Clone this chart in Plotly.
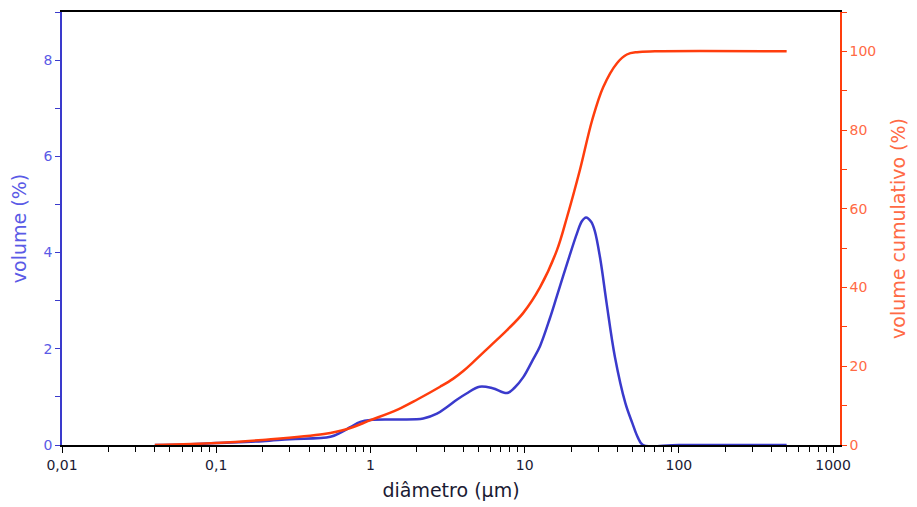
import plotly.graph_objects as go

# Frequency distribution (volume %)
diam_freq = [0.04, 0.06, 0.1, 0.2, 0.3, 0.55, 0.65, 0.74, 0.86, 1.0, 1.5, 2.2, 2.7, 3.14, 3.63, 4.2,
             5.1, 6.2, 7.7, 8.6, 9.8, 11.3, 12.6, 14.6, 16.2, 18.8, 21.9, 23.5, 25, 27, 28.5, 31, 34, 38.5,
             45, 50, 54, 58.6, 100, 500]
volume = [0, 0.01, 0.04, 0.08, 0.12, 0.17, 0.27, 0.37, 0.48, 0.52, 0.53, 0.55, 0.65, 0.79, 0.94, 1.07,
          1.21, 1.18, 1.08, 1.19, 1.41, 1.77, 2.06, 2.64, 3.1, 3.76, 4.41, 4.65, 4.73, 4.64, 4.45, 3.85, 2.95, 1.83,
          0.87, 0.45, 0.17, 0, 0, 0]

# Cumulative distribution (volume cumulativo %)
diam_cum = [0.04, 0.1, 0.2, 0.5, 0.7, 1.0, 1.5, 2.0, 2.83, 3.43, 4.0, 4.62, 6.0, 7.69, 9.77, 12.6, 16.2,
            18.8, 22.8, 27.4, 32.3, 39.7, 46, 53.6, 70, 500]
cumulative = [0, 0.5, 1.3, 2.8, 4.0, 6.3, 9.0, 11.5, 14.8, 16.8, 18.8, 21.0, 25.2, 29.2, 33.5, 40.1, 49.5,
              57.8, 69.8, 82.5, 90.9, 97.0, 99.2, 99.8, 100, 100]

x_tickvals = [0.01, 0.1, 1, 10, 100, 1000]
x_ticktext = ["0,01", "0,1", "1", "10", "100", "1000"]

BLUE = "#3a3acc"
BLUE_TXT = "#5a5ae6"
ORANGE = "#ff3d0d"
ORANGE_TXT = "#ff6a45"
FONT = "DejaVu Sans"

fig = go.Figure()
fig.add_trace(go.Scatter(x=diam_freq, y=volume, mode="lines",
                         line=dict(color=BLUE, width=2.5, shape="spline", smoothing=1.0),
                         yaxis="y", showlegend=False))
fig.add_trace(go.Scatter(x=diam_cum, y=cumulative, mode="lines",
                         line=dict(color=ORANGE, width=2.5, shape="spline", smoothing=1.0),
                         yaxis="y2", showlegend=False))

fig.update_layout(
    width=917, height=507,
    margin=dict(l=54, r=85, t=4, b=70, autoexpand=False),
    paper_bgcolor="white", plot_bgcolor="white",
    font=dict(family=FONT, size=14),
    xaxis=dict(type="log", range=[-2, 3.045],
               tickvals=x_tickvals, ticktext=x_ticktext,
               ticks="outside", ticklen=6, tickcolor="black",
               minor=dict(ticks="outside", ticklen=5, dtick="D1", tickcolor="black"),
               showline=True, linecolor="black", linewidth=1.5, mirror=True,
               showgrid=False, zeroline=False, automargin=False,
               tickfont=dict(color="#1a1a33", size=14),
               title=dict(text="diâmetro (µm)", font=dict(size=19, color="#1a1a33"), standoff=12)),
    yaxis=dict(range=[0, 9], dtick=2, tick0=0,
               ticks="outside", ticklen=5, tickcolor=BLUE,
               minor=dict(ticks="outside", ticklen=5, dtick=1, tickcolor=BLUE),
               showline=True, linecolor=BLUE, linewidth=1.5,
               showgrid=False, zeroline=False, automargin=False,
               tickfont=dict(color=BLUE_TXT, size=14),
               title=dict(text="volume (%)", font=dict(size=19, color=BLUE_TXT), standoff=14)),
    yaxis2=dict(range=[0, 110], dtick=20, tick0=0, overlaying="y", side="right",
                ticks="outside", ticklen=5, tickcolor=ORANGE,
                minor=dict(ticks="outside", ticklen=5, dtick=10, tickcolor=ORANGE),
                showline=True, linecolor=ORANGE, linewidth=1.5,
                showgrid=False, zeroline=False, automargin=False,
                tickfont=dict(color=ORANGE_TXT, size=14),
                title=dict(text="volume cumulativo (%)", font=dict(size=19, color=ORANGE_TXT), standoff=16)),
)

fig.write_html("out.html")
